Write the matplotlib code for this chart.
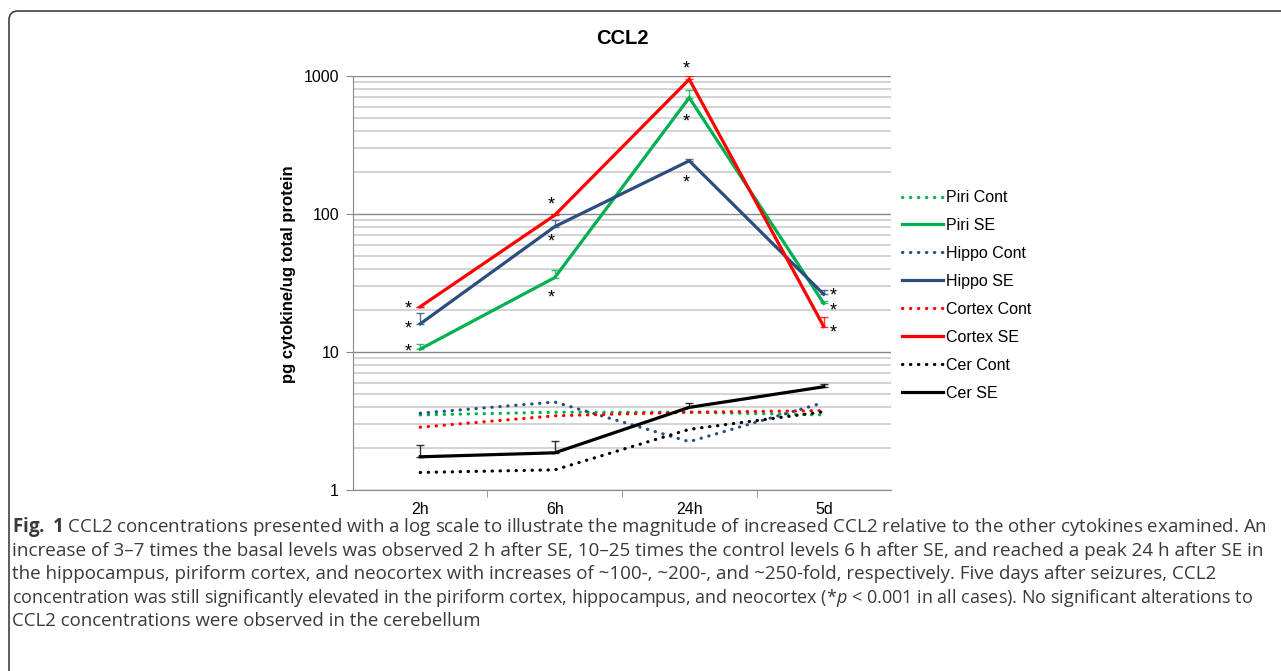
import matplotlib
matplotlib.use('Agg')
import matplotlib.pyplot as plt
import numpy as np
from matplotlib.patches import FancyBboxPatch
from matplotlib.transforms import IdentityTransform
from matplotlib.ticker import LogLocator, NullFormatter, FixedLocator

plt.rcParams['font.family'] = ['Liberation Sans', 'DejaVu Sans']
plt.rcParams['mathtext.fontset'] = 'custom'
plt.rcParams['mathtext.rm'] = 'Open Sans'
plt.rcParams['mathtext.it'] = 'Open Sans:italic'
plt.rcParams['mathtext.bf'] = 'Open Sans:bold'

# data
timepoints = ['2h', '6h', '24h', '5d']

piri_cont = [3.5, 3.66, 3.66, 3.5]
piri_se = [10.5, 34.6, 696, 22.5]
hippo_cont = [3.6, 4.34, 2.24, 4.3]
hippo_se = [16.0, 81, 243, 26.2]
cortex_cont = [2.85, 3.45, 3.66, 3.76]
cortex_se = [21.3, 98, 946, 15.3]
cer_cont = [1.34, 1.40, 2.75, 3.69]
cer_se = [1.74, 1.86, 3.97, 5.6]

# upper error bars (SE groups only)
piri_se_err = [0.9, 5.0, 96, 1.0]
hippo_se_err = [3.2, 9, 8, 1.8]
cortex_se_err = [0.0, 2.0, 60, 2.6]
cer_se_err = [0.38, 0.40, 0.33, 0.26]

caption = [
    r'$\mathbf{Fig.}$ $\mathbf{1}$ CCL2 concentrations presented with a log scale to illustrate the magnitude of increased CCL2 relative to the other cytokines examined. An',
    'increase of 3\u20137 times the basal levels was observed 2 h after SE, 10\u201325 times the control levels 6 h after SE, and reached a peak 24 h after SE in',
    'the hippocampus, piriform cortex, and neocortex with increases of ~100-, ~200-, and ~250-fold, respectively. Five days after seizures, CCL2',
    r'concentration was still significantly elevated in the piriform cortex, hippocampus, and neocortex (*$p$ < 0.001 in all cases). No significant alterations to',
    'CCL2 concentrations were observed in the cerebellum',
]
# right end of each caption line in the reference (px), None = use mean scale
caption_right = [1267, 1259, 1209, 1253, None]

green = '#00b050'
blue = '#2c4d7f'
red = '#ff0000'
black = '#000000'

series = [
    ('Piri Cont', piri_cont, green, 'dot', None),
    ('Piri SE', piri_se, green, 'solid', piri_se_err),
    ('Hippo Cont', hippo_cont, blue, 'dot', None),
    ('Hippo SE', hippo_se, blue, 'solid', hippo_se_err),
    ('Cortex Cont', cortex_cont, red, 'dot', None),
    ('Cortex SE', cortex_se, red, 'solid', cortex_se_err),
    ('Cer Cont', cer_cont, black, 'dot', None),
    ('Cer SE', cer_se, black, 'solid', cer_se_err),
]

# significance stars: (series values, index, offset px x, offset px y)
stars = [
    (cortex_se, 0, -12, 3), (hippo_se, 0, -12, 0), (piri_se, 0, -12, 3),
    (cortex_se, 1, -3, 16), (hippo_se, 1, -3, -10), (piri_se, 1, -3, -15),
    (cortex_se, 2, -3, 16), (piri_se, 2, -3, -19), (hippo_se, 2, -3, -17),
    (hippo_se, 3, 9, 4), (piri_se, 3, 9, -2), (cortex_se, 3, 9, -1),
]

fig = plt.figure(figsize=(12.81, 6.71), dpi=100)
ax = fig.add_axes([353/1281, 1-490/671, 538/1281, 414/671])

x = np.arange(len(timepoints))
for name, vals, col, style, err in series:
    if style == 'dot':
        ax.plot(x, vals, color=col, lw=2.3, linestyle=(0, (0.1, 2.4)),
                dash_capstyle='round', label=name, zorder=3)
    else:
        ax.plot(x, vals, color=col, lw=2.3, label=name, zorder=4,
                solid_joinstyle='miter')
        ax.errorbar(x, vals, yerr=[np.zeros(len(err)), err], fmt='none',
                    ecolor=col, elinewidth=1.0, capsize=3, capthick=1.0,
                    alpha=0.8, zorder=2)

for vals, i, dx, dy in stars:
    ax.annotate('*', (x[i], vals[i]), xytext=(dx, dy - 10),
                textcoords='offset pixels', ha='center', va='baseline',
                fontsize=13, color='black')

ax.set_yscale('log')
ax.set_ylim(1, 1000)
ax.set_xlim(-0.5, 3.5)
ax.yaxis.set_major_locator(FixedLocator([1, 10, 100, 1000]))
ax.set_yticklabels(['1', '10', '100', '1000'])
ax.yaxis.set_minor_locator(LogLocator(base=10, subs=np.arange(2, 10)))
ax.yaxis.set_minor_formatter(NullFormatter())
ax.grid(which='major', axis='y', color='#888888', lw=1.0, zorder=0)
ax.grid(which='minor', axis='y', color='#d0d0d0', lw=1.3, zorder=0)
ax.tick_params(axis='y', which='major', length=5, color='#888888',
               labelsize=11.5, pad=5)
ax.tick_params(axis='y', which='minor', length=0)

ax.set_xticks(x)
ax.set_xticklabels(timepoints)
ax.set_xticks([0.5, 1.5, 2.5], minor=True)
ax.tick_params(axis='x', which='major', length=0, labelsize=11.5, pad=8.5)
ax.tick_params(axis='x', which='minor', length=5, color='#888888')

for s in ['top', 'right']:
    ax.spines[s].set_visible(False)
for s in ['left', 'bottom']:
    ax.spines[s].set_color('#888888')

fig.text(622/1281, 1-38/671, 'CCL2', ha='center', va='center',
         fontsize=14.5, fontweight='bold')
fig.text(289/1281, 1-274/671, 'pg cytokine/ug total protein', rotation=90,
         ha='center', va='center', fontsize=12, fontweight='bold')

ax.legend(loc='center left', bbox_to_anchor=(1.02, 0.47), frameon=False,
          fontsize=11.5, handlelength=2.6, handletextpad=0.2,
          labelspacing=0.81, borderpad=0, borderaxespad=0)

frame = FancyBboxPatch((9, -40), 1320, 671 - 11 + 40,
                       boxstyle='round,pad=0,rounding_size=9',
                       transform=IdentityTransform(), fill=False,
                       edgecolor='#404040', lw=1.2)
fig.patches.append(frame)

# caption: fit each line to the width it has in the reference
renderer = fig.canvas.get_renderer()
base_fs = 13.0
left_px = 12
texts = []
scales = []
for k, line in enumerate(caption):
    t = fig.text(left_px/1281, 1-(527 + 23.6*k)/671, line, ha='left',
                 va='center', fontsize=base_fs, family='Open Sans',
                 color='#3a3a3a')
    w = t.get_window_extent(renderer).width
    texts.append(t)
    if caption_right[k] is not None:
        scales.append((caption_right[k] - left_px) / w)
for k, t in enumerate(texts):
    s = scales[k] if k < len(scales) else np.mean(scales)
    t.set_fontsize(base_fs * s)

fig.savefig('out.png', dpi=100)
